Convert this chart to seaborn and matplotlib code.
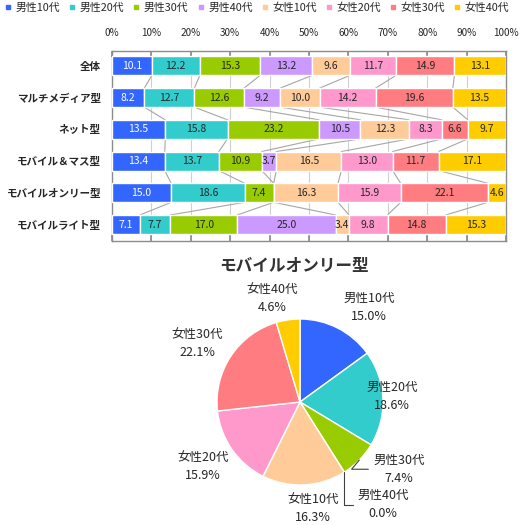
import matplotlib
matplotlib.use("Agg")
import matplotlib.pyplot as plt
from matplotlib.lines import Line2D
import seaborn as sns
import numpy as np
import pandas as pd

# data
segments = ["男性10代", "男性20代", "男性30代", "男性40代",
            "女性10代", "女性20代", "女性30代", "女性40代"]
groups = ["全体", "マルチメディア型", "ネット型", "モバイル＆マス型",
          "モバイルオンリー型", "モバイルライト型"]
m10 = [10.1, 8.2, 13.5, 13.4, 15.0, 7.1]
m20 = [12.2, 12.7, 15.8, 13.7, 18.6, 7.7]
m30 = [15.3, 12.6, 23.2, 10.9, 7.4, 17.0]
m40 = [13.2, 9.2, 10.5, 3.7, 0.0, 25.0]
f10 = [9.6, 10.0, 12.3, 16.5, 16.3, 3.4]
f20 = [11.7, 14.2, 8.3, 13.0, 15.9, 9.8]
f30 = [14.9, 19.6, 6.6, 11.7, 22.1, 14.8]
f40 = [13.1, 13.5, 9.7, 17.1, 4.6, 15.3]
pie_group = "モバイルオンリー型"
tick_labels = [f"{v}%" for v in range(0, 101, 10)]

colors = ["#3366FF", "#33CCCC", "#99CC00", "#CC99FF",
          "#FFCC99", "#FF99CC", "#FF7C80", "#FFCC00"]
text_col = "#262626"

sns.set_theme(style="white")
plt.rcParams["font.family"] = ["Noto Sans CJK JP", "DejaVu Sans"]

table = pd.DataFrame(dict(zip(segments, [m10, m20, m30, m40, f10, f20, f30, f40])),
                     index=groups)
shares = table.div(table.sum(axis=1), axis=0) * 100
lefts = shares.cumsum(axis=1) - shares

fig = plt.figure(figsize=(5.2, 5.25), dpi=100)
ax = fig.add_axes([112 / 520, 1 - 241 / 525, 394 / 520, 190.3 / 525])

bar_h = 0.6
for i, seg in enumerate(segments):
    sns.barplot(x=shares[seg].values, y=groups, orient="h", ax=ax,
                color=colors[i], saturation=1, width=bar_h,
                left=lefts[seg].values, edgecolor="white", linewidth=1,
                zorder=3)
    for j, g in enumerate(groups):
        if table.loc[g, seg] == 0:
            continue
        ax.text(lefts.loc[g, seg] + shares.loc[g, seg] / 2, j,
                f"{table.loc[g, seg]:.1f}", ha="center", va="center",
                fontsize=7.5, zorder=5,
                color="white" if i == 0 else text_col)

# series lines between neighbouring bars
cum = shares.cumsum(axis=1).values
for j in range(len(groups) - 1):
    for k in range(len(segments) - 1):
        ax.plot([cum[j, k], cum[j + 1, k]], [j + bar_h / 2, j + 1 - bar_h / 2],
                color="#A6A6A6", lw=0.8, zorder=2)

ax.set_xlim(0, 100)
ax.set_ylim(len(groups) - 0.48, -0.48)
ax.set_xticks(range(0, 101, 10))
ax.set_xticklabels(tick_labels, fontsize=7.2, color=text_col)
ax.xaxis.tick_top()
ax.tick_params(axis="x", which="both", top=True, bottom=True, direction="in",
               length=4, color="#8C8C8C", pad=9)
ax.tick_params(axis="y", length=0, pad=8)
for lab in ax.get_yticklabels():
    lab.set_fontsize(7.6)
    lab.set_fontweight("bold")
    lab.set_color(text_col)
ax.grid(axis="x", color="#CFCFCF", lw=0.8, zorder=0)
ax.set_axisbelow(True)
ax.set_xlabel("")
ax.set_ylabel("")
for sp in ax.spines.values():
    sp.set_color("#8C8C8C")
    sp.set_linewidth(1)

handles = [Line2D([0], [0], marker="s", linestyle="none", markersize=3.5,
                  markerfacecolor=c, markeredgecolor=c) for c in colors]
fig.legend(handles, segments, loc="upper left", bbox_to_anchor=(0.0, 1.005),
           ncol=8, frameon=False, fontsize=7.8, handlelength=0.5,
           handletextpad=0.45, columnspacing=0.85, borderaxespad=0.2,
           borderpad=0.3, labelcolor=text_col)

# pie of one group
pie_vals = table.loc[pie_group].values
axp = fig.add_axes([217 / 520, 1 - 485 / 525, 166 / 520, 166 / 525])
wedges, _ = axp.pie(pie_vals, colors=colors, startangle=90, counterclock=False,
                    wedgeprops=dict(edgecolor="white", linewidth=1))
axp.set_xlim(-1, 1)
axp.set_ylim(-1, 1)
axp.set_aspect("equal")

label_pos = [(0.83, 1.14), (1.11, 0.07), (1.19, -0.81), (1.00, -1.24),
             (0.16, -1.28), (-1.17, -0.78), (-1.24, 0.71), (-0.34, 1.25)]
leader = {2: "angle,angleA=0,angleB=50", 3: "angle,angleA=0,angleB=90"}
for i, (seg, v) in enumerate(zip(segments, pie_vals)):
    txt = f"{seg}\n{v:.1f}%"
    if i in leader:
        ang = np.deg2rad((wedges[i].theta1 + wedges[i].theta2) / 2)
        edge = (np.cos(ang), np.sin(ang))
        axp.annotate(txt, xy=edge, xytext=label_pos[i], ha="center",
                     va="center", fontsize=9, color=text_col,
                     linespacing=1.5, annotation_clip=False,
                     arrowprops=dict(arrowstyle="-", color="#404040", lw=0.8,
                                     shrinkA=1, shrinkB=0, relpos=(0, 0.5),
                                     connectionstyle=leader[i]))
    else:
        axp.text(*label_pos[i], txt, ha="center", va="center", fontsize=9,
                 color=text_col, linespacing=1.5, clip_on=False)

fig.text(294 / 520, 1 - 266 / 525, pie_group, ha="center", va="center",
         fontsize=12, fontweight="bold", color="#333333")

fig.savefig("out.png", dpi=100)
